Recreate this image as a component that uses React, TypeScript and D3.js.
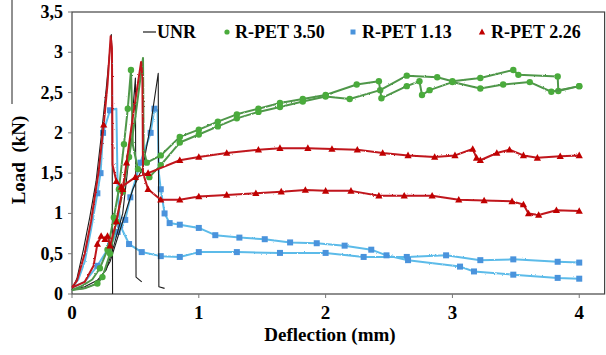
import React from 'react';
import * as d3 from 'd3';

// deflection (mm), load (kN)
const unr1 = [[0,0.05],[0.04,0.2],[0.09,0.55],[0.14,0.95],[0.19,1.4],[0.23,1.95],[0.27,2.55],[0.31,3.22],[0.315,3.0],[0.32,0]];
const unr2 = [[0,0.05],[0.1,0.09],[0.2,0.17],[0.27,0.3],[0.33,0.6],[0.4,1.0],[0.45,1.7],[0.5,2.68],[0.505,0.21],[0.55,0.15]];
const unr3 = [[0,0.05],[0.1,0.07],[0.2,0.13],[0.3,0.4],[0.4,0.9],[0.48,1.3],[0.56,1.58],[0.62,2.1],[0.68,2.74],[0.685,0.09],[0.73,0.07]];

const pet350a = [[0,0.05],[0.08,0.1],[0.16,0.18],[0.22,0.32],[0.28,0.55],[0.33,0.95],[0.37,1.3],[0.41,1.86],[0.44,2.3],[0.465,2.78],[0.47,2.5],[0.48,1.85],[0.52,1.55],[0.61,1.45],[0.7,1.6],[0.85,1.88],[1.0,1.98],[1.15,2.08],[1.3,2.18],[1.47,2.26],[1.64,2.32],[1.82,2.39],[2.0,2.45],[2.19,2.42],[2.43,2.53],[2.64,2.71],[2.88,2.69],[3.0,2.64],[3.22,2.68],[3.48,2.78],[3.52,2.72],[3.83,2.7],[3.835,2.52],[4.0,2.58]];
const pet350b = [[0,0.05],[0.1,0.07],[0.2,0.13],[0.24,0.21],[0.3,0.5],[0.35,0.9],[0.4,1.27],[0.45,1.7],[0.5,2.2],[0.56,2.93],[0.565,1.8],[0.59,1.63],[0.7,1.72],[0.85,1.95],[1.0,2.04],[1.15,2.14],[1.3,2.23],[1.47,2.3],[1.64,2.37],[1.82,2.42],[2.0,2.47],[2.245,2.6],[2.42,2.64],[2.44,2.43],[2.64,2.58],[2.74,2.64],[2.76,2.47],[2.82,2.53],[3.0,2.63],[3.22,2.55],[3.4,2.6],[3.61,2.63],[3.78,2.51],[4.0,2.58]];

const pet113a = [[0,0.08],[0.05,0.18],[0.1,0.4],[0.15,0.8],[0.2,1.25],[0.225,1.5],[0.245,2.0],[0.3,2.28],[0.35,2.3],[0.36,1.3],[0.38,0.85],[0.45,0.62],[0.55,0.52],[0.7,0.47],[0.85,0.46],[1.0,0.52],[1.3,0.52],[1.64,0.51],[2.0,0.51],[2.3,0.46],[2.64,0.46],[2.95,0.48],[3.22,0.42],[3.48,0.43],[3.83,0.4],[4.0,0.39]];
const pet113b = [[0,0.08],[0.1,0.15],[0.2,0.35],[0.3,0.6],[0.36,0.77],[0.42,0.92],[0.46,1.2],[0.54,1.63],[0.62,2.0],[0.65,2.3],[0.675,2.28],[0.685,1.5],[0.7,1.3],[0.73,1.0],[0.77,0.88],[0.85,0.86],[1.0,0.82],[1.13,0.73],[1.32,0.7],[1.52,0.68],[1.72,0.64],[1.93,0.63],[2.15,0.6],[2.36,0.55],[2.48,0.48],[2.65,0.42],[3.06,0.34],[3.17,0.28],[3.48,0.24],[3.83,0.2],[4.0,0.19]];

const pet226a = [[0,0.08],[0.04,0.17],[0.1,0.5],[0.15,0.9],[0.21,1.52],[0.25,2.1],[0.28,2.6],[0.305,3.2],[0.315,3.05],[0.32,1.6],[0.35,1.4],[0.39,1.33],[0.5,1.45],[0.6,1.5],[0.85,1.66],[1.0,1.7],[1.22,1.75],[1.47,1.79],[1.64,1.81],[1.86,1.81],[2.05,1.8],[2.25,1.79],[2.45,1.75],[2.65,1.72],[2.86,1.7],[3.02,1.72],[3.16,1.8],[3.19,1.69],[3.22,1.66],[3.35,1.75],[3.45,1.79],[3.56,1.72],[3.67,1.69],[3.85,1.71],[4.0,1.72]];
const pet226b = [[0,0.08],[0.1,0.15],[0.17,0.35],[0.2,0.62],[0.23,0.72],[0.26,0.68],[0.28,0.72],[0.3,0.6],[0.35,0.9],[0.4,1.3],[0.43,1.63],[0.48,2.2],[0.545,2.88],[0.555,2.7],[0.56,1.5],[0.6,1.3],[0.7,1.17],[0.85,1.17],[1.0,1.21],[1.22,1.23],[1.45,1.25],[1.65,1.27],[1.84,1.29],[2.0,1.28],[2.2,1.28],[2.42,1.22],[2.62,1.22],[2.84,1.22],[3.05,1.17],[3.25,1.16],[3.47,1.15],[3.56,1.11],[3.6,1.0],[3.68,0.98],[3.82,1.04],[4.0,1.03]];

const xTicks = [0, 1, 2, 3, 4];
const yTicks = [0, 0.5, 1, 1.5, 2, 2.5, 3, 3.5];
const legendNames = ['UNR', 'R-PET 3.50', 'R-PET 1.13', 'R-PET 2.26'];

const W = 606, H = 355;
const x = d3.scaleLinear().domain([0, 4.2]).range([72, 604.6]);
const y = d3.scaleLinear().domain([0, 3.5]).range([294, 12]);
const line = d3.line<number[]>().x(d => x(d[0])).y(d => y(d[1]));
const fmt = (v: number) => String(v).replace('.', ',');

const C = {
  black: '#1c1c1c',
  greenLine: '#4f974a', greenMark: '#4aab3c',
  blueLine: '#5cbbe9', blueMark: '#4a93dc',
  redLine: '#c0161c', redMark: '#c00000',
};

const font = '"Liberation Serif", "Times New Roman", Times, serif';

// markers on the data points, but not on the sharp peaks and drops
const markPts = (data: number[][]) =>
  data.filter((d, i) => {
    if (d[0] < 0.18) return false;
    const prev = data[i - 1], next = data[i + 1];
    if (prev && Math.abs(d[1] - prev[1]) > 0.6) return false;
    if (next && Math.abs(d[1] - next[1]) > 0.6) return false;
    return true;
  });

const Circle = ({ cx, cy }: any) => <circle cx={cx} cy={cy} r={3.2} fill={C.greenMark} />;
const Square = ({ cx, cy }: any) => <rect x={cx - 3} y={cy - 3} width={6} height={6} fill={C.blueMark} />;
const Tri = ({ cx, cy }: any) => <path d={`M${cx},${cy - 3.8}L${cx + 3.6},${cy + 2.8}L${cx - 3.6},${cy + 2.8}Z`} fill={C.redMark} />;

const Series = ({ data, color, width, Mark, rough }: any) => (
  <g>
    <path d={line(data) || ''} fill="none" stroke={color} strokeWidth={width} strokeLinejoin="round"
      filter={rough ? 'url(#rough)' : undefined} />
    {Mark && markPts(data).map((d: number[], i: number) => <Mark key={i} cx={x(d[0])} cy={y(d[1])} />)}
  </g>
);

export default function App() {
  return (
    <svg width={W} height={H} style={{ position: 'absolute', left: 0, top: 0, background: '#fff', fontFamily: font }}>
      <defs>
        {/* jittery look of the measured signals */}
        <filter id="rough" x="-2%" y="-5%" width="104%" height="110%">
          <feTurbulence type="fractalNoise" baseFrequency="0.9" numOctaves={1} seed={3} />
          <feDisplacementMap in="SourceGraphic" scale={2.2} xChannelSelector="R" yChannelSelector="G" />
        </filter>
      </defs>

      {/* frame */}
      <line x1={12} x2={12} y1={0} y2={104} stroke="#222" strokeWidth={1} />
      <rect x={72} y={12} width={604.6 - 72} height={282} fill="none" stroke="#444" strokeWidth={1.2} />

      {/* ticks */}
      {yTicks.map(t => (
        <g key={t}>
          <line x1={68} x2={72} y1={y(t)} y2={y(t)} stroke="#777" />
          <text x={63} y={y(t) + 6} textAnchor="end" fontSize={18} fontWeight="bold" style={{ fontFamily: font }}>{fmt(t)}</text>
        </g>
      ))}
      {xTicks.map(t => (
        <g key={t}>
          <line x1={x(t)} x2={x(t)} y1={294} y2={298} stroke="#777" />
          <text x={x(t)} y={319} textAnchor="middle" fontSize={19} fontWeight="bold" style={{ fontFamily: font }}>{t}</text>
        </g>
      ))}

      {/* axis titles */}
      <text x={330} y={341} textAnchor="middle" fontSize={19} fontWeight="bold" style={{ fontFamily: font }}>Deflection (mm)</text>
      <text transform="translate(25,160) rotate(-90)" textAnchor="middle" fontSize={19} fontWeight="bold" style={{ fontFamily: font, whiteSpace: 'pre' }}>Load  (kN)</text>

      {/* curves */}
      <Series data={pet113a} color={C.blueLine} width={2} Mark={Square} rough />
      <Series data={pet113b} color={C.blueLine} width={2} Mark={Square} rough />
      <Series data={unr1} color={C.black} width={1.1} />
      <Series data={unr2} color={C.black} width={1.1} />
      <Series data={unr3} color={C.black} width={1.1} />
      <Series data={pet350a} color={C.greenLine} width={2} Mark={Circle} rough />
      <Series data={pet350b} color={C.greenLine} width={2} Mark={Circle} rough />
      <Series data={pet226a} color={C.redLine} width={2} Mark={Tri} rough />
      <Series data={pet226b} color={C.redLine} width={2} Mark={Tri} rough />

      {/* legend */}
      <g fontSize={18} fontWeight="bold" style={{ fontFamily: font }}>
        <line x1={143} x2={156} y1={32} y2={32} stroke={C.black} strokeWidth={1.2} />
        <text x={157} y={38}>{legendNames[0]}</text>
        <circle cx={227} cy={32} r={2.6} fill={C.greenMark} />
        <text x={235} y={38}>{legendNames[1]}</text>
        <rect x={350.5} y={29.5} width={5} height={5} fill={C.blueMark} />
        <text x={362} y={38}>{legendNames[2]}</text>
        <path d="M482,28.5L485.2,34.5L478.8,34.5Z" fill={C.redMark} />
        <text x={491} y={38}>{legendNames[3]}</text>
      </g>
    </svg>
  );
}
